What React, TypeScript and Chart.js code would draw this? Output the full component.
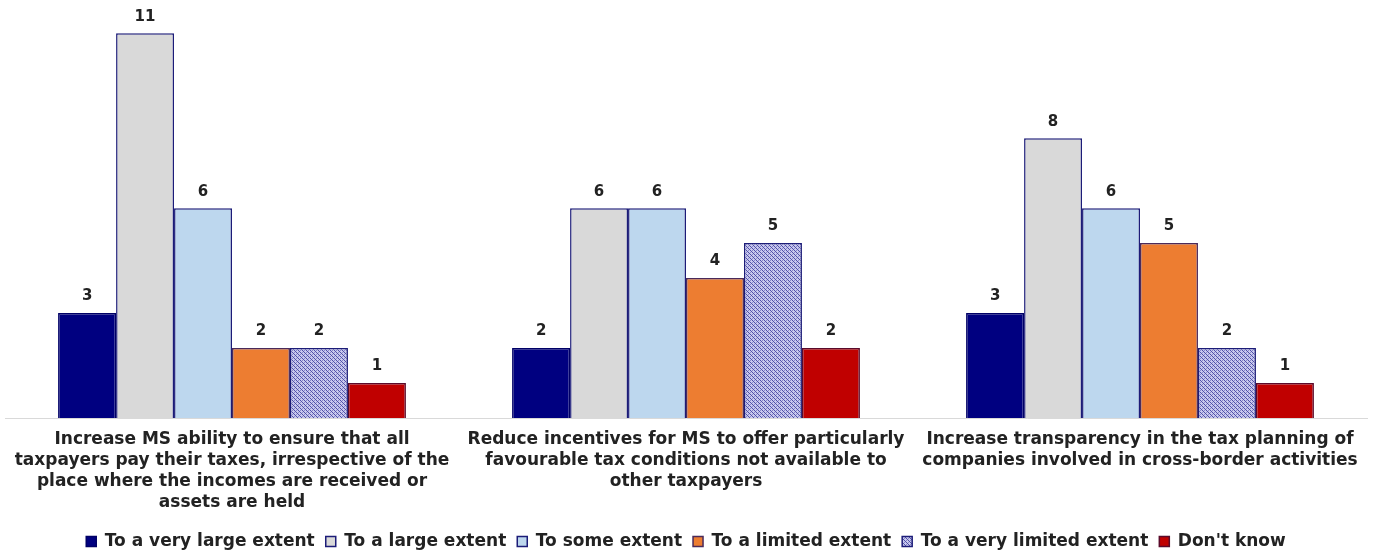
import React, { useEffect, useRef } from "react";
import { Chart, registerables } from "chart.js";

Chart.register(...registerables);

const categories: string[][] = [
  [
    "Increase MS ability to ensure that all",
    "taxpayers pay their taxes, irrespective of the",
    "place where the incomes are received or",
    "assets are held",
  ],
  [
    "Reduce incentives for MS to offer particularly",
    "favourable tax conditions not available to",
    "other taxpayers",
  ],
  [
    "Increase transparency in the tax planning of",
    "companies involved in cross-border activities",
  ],
];

const seriesNames = [
  "To a very large extent",
  "To a large extent",
  "To some extent",
  "To a limited extent",
  "To a very limited extent",
  "Don't know",
];

const veryLargeExtent = [3, 2, 3];
const largeExtent = [11, 6, 8];
const someExtent = [6, 6, 6];
const limitedExtent = [2, 4, 5];
const veryLimitedExtent = [2, 5, 2];
const dontKnow = [1, 2, 1];

const FONT = "'DejaVu Sans', Verdana, sans-serif";

function makePattern(): CanvasPattern | string {
  const c = document.createElement("canvas");
  c.width = 4;
  c.height = 4;
  const g = c.getContext("2d");
  if (!g) return "#8a8ccc";
  g.fillStyle = "#c8c8ee";
  g.fillRect(0, 0, 4, 4);
  g.fillStyle = "#5050a8";
  g.fillRect(0, 0, 1, 1);
  g.fillRect(2, 2, 1, 1);
  g.fillRect(1, 1, 1, 1);
  g.fillRect(3, 3, 1, 1);
  g.fillStyle = "#8888c8";
  g.fillRect(2, 0, 1, 1);
  g.fillRect(0, 2, 1, 1);
  const p = g.createPattern(c, "repeat");
  return p || "#8a8ccc";
}

const valueLabels = {
  id: "valueLabels",
  afterDatasetsDraw(chart: any) {
    const ctx = chart.ctx;
    ctx.save();
    ctx.font = `bold 15px ${FONT}`;
    ctx.fillStyle = "#222";
    ctx.textAlign = "center";
    ctx.textBaseline = "bottom";
    chart.data.datasets.forEach((ds: any, i: number) => {
      const meta = chart.getDatasetMeta(i);
      meta.data.forEach((bar: any, j: number) => {
        ctx.fillText(String(ds.data[j]), bar.x, bar.y - 9);
      });
    });
    ctx.restore();
  },
};

const legendShift = {
  id: "legendShift",
  afterLayout(chart: any) {
    if (chart.legend) {
      chart.legend.top += 6;
      chart.legend.bottom += 6;
    }
  },
};

export default function App() {
  const ref = useRef<HTMLCanvasElement | null>(null);

  useEffect(() => {
    if (!ref.current) return;
    const pattern = makePattern();
    const values = [
      veryLargeExtent,
      largeExtent,
      someExtent,
      limitedExtent,
      veryLimitedExtent,
      dontKnow,
    ];
    const fills: any[] = ["#000080", "#D9D9D9", "#BDD7EE", "#ED7D31", pattern, "#C00000"];
    const borders = ["#000066", "#1c1c78", "#1c1c78", "#4a2a5a", "#1c1c78", "#5a0a2a"];
    const chart = new Chart(ref.current, {
      type: "bar",
      data: {
        labels: categories,
        datasets: seriesNames.map((name, i) => ({
          label: name,
          data: values[i],
          backgroundColor: fills[i],
          borderColor: borders[i],
          borderWidth: 1.5,
          categoryPercentage: 0.766,
          barPercentage: 1,
        })),
      },
      options: {
        animation: false,
        responsive: false,
        maintainAspectRatio: false,
        layout: { padding: { left: 5, right: 8, top: 0, bottom: 0 } },
        plugins: {
          tooltip: { enabled: false },
          legend: {
            position: "bottom",
            labels: {
              boxWidth: 10,
              boxHeight: 10,
              padding: 11,
              color: "#222",
              font: { family: FONT, size: 17, weight: "bold" },
            },
          },
        },
        scales: {
          x: {
            grid: { display: false, drawTicks: false },
            border: { display: true, color: "#d9d9d9", width: 1 },
            ticks: {
              color: "#222",
              padding: 11,
              maxRotation: 0,
              autoSkip: false,
              font: { family: FONT, size: 17, weight: "bold", lineHeight: "21px" },
            },
            afterFit: (scale: any) => {
              scale.height = 98;
            },
          },
          y: {
            display: false,
            min: 0,
            max: 11.95,
          },
        },
      },
      plugins: [valueLabels, legendShift],
    });
    return () => chart.destroy();
  }, []);

  return (
    <div style={{ position: "fixed", left: 0, top: 0, width: 1375, height: 554, background: "#fff" }}>
      <canvas ref={ref} width={1375} height={554} style={{ width: 1375, height: 554 }} />
    </div>
  );
}
